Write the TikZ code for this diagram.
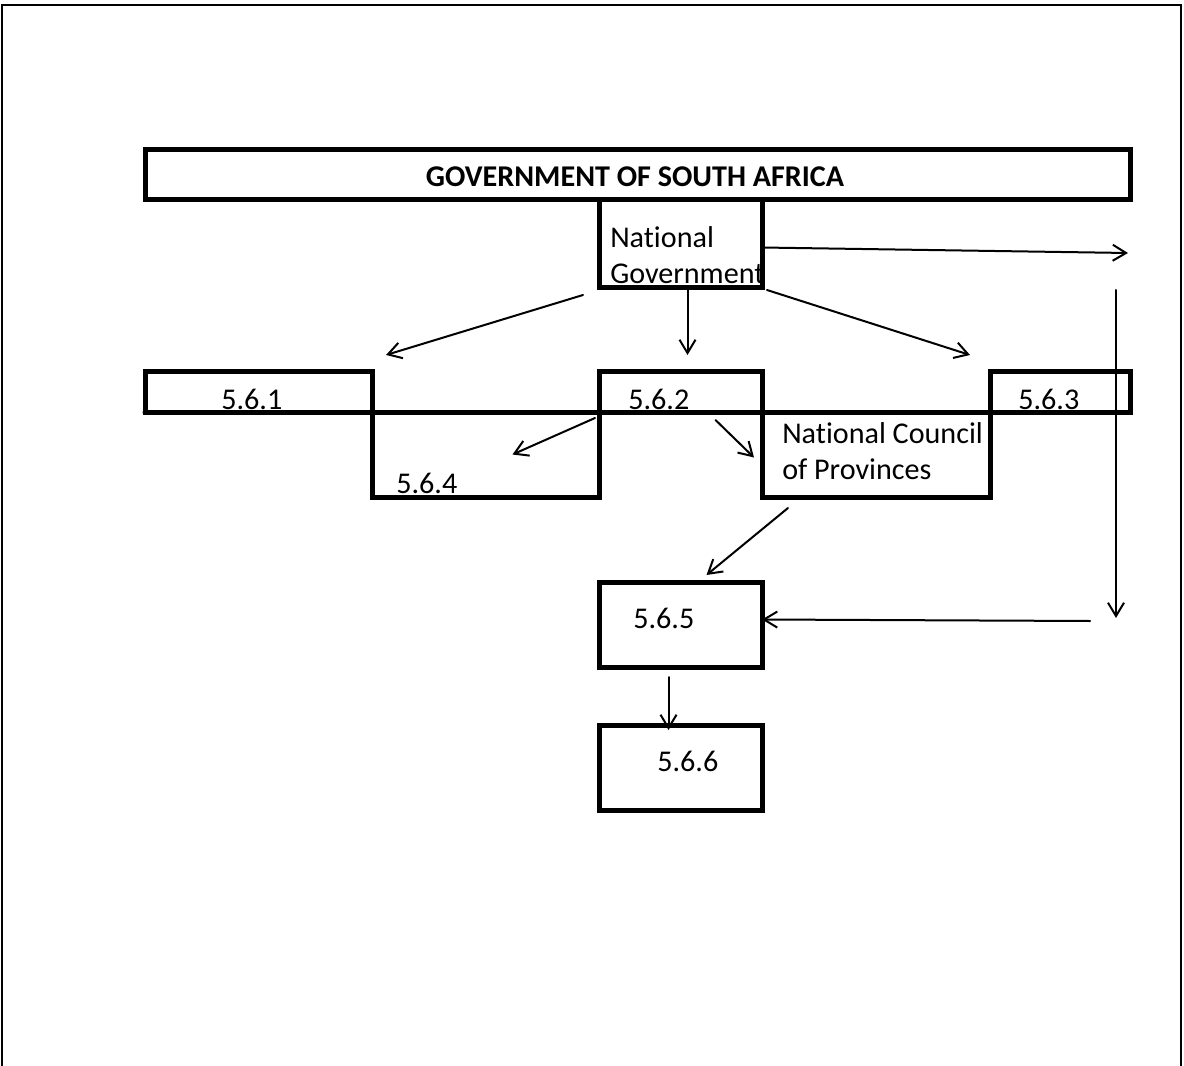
\documentclass[tikz,border=0pt]{standalone}
\usepackage{fontspec}
\setmainfont{Carlito}[Ligatures={NoCommon}]
\usetikzlibrary{arrows.meta}

\begin{document}
\begin{tikzpicture}[line cap=round,x=0.75pt,y=-0.75pt,
		>={Straight Barb[length=10pt,width=12pt]},
		font=\fontsize{22.6}{27}\selectfont,
		box/.style 2 args={draw,rectangle,line width=3.75pt,line join=miter,anchor=north west,
			inner sep=0pt,outer sep=0pt,minimum width=#1*0.75pt,minimum height=#2*0.75pt},
		lbl/.style={anchor=base west,inner sep=0pt,align=left},
		con/.style={->,line width=1.5pt}]
	\useasboundingbox (0,0) rectangle (1184,1066);
	%%%% MARCO
	\draw [line width=1.5pt] (2,1066) -- (2,5) -- (1181,5) -- (1181,1066);
	
	%%%% GOBIERNO
	\node[box={985}{50}] (gov) at (145,150) {};
	\node[anchor=base,inner sep=0pt,font=\fontsize{22.6}{27}\selectfont\bfseries] (govt) at (635,187) {GOVERNMENT OF SOUTH AFRICA};
	\node[box={163}{87}] (ng) at (599,200) {};
	\node[lbl] (ngt) at (610,283) {National\\Government};
	
	%%%% FILA 5.6.x
	\node[box={227}{41}] (b561) at (145,371) {};
	\node[box={163}{41}] (b562) at (599,371) {};
	\node[box={140}{41}] (b563) at (990,371) {};
	\draw [line width=3.75pt] (b561.south west) -- (b563.south east);
	\node[lbl] (t561) at (221,409) {5.6.1};
	\node[lbl] (t562) at (628,409) {5.6.2};
	\node[lbl] (t563) at (1018,409) {5.6.3};
	
	\node[box={227}{85}] (b564) at (372,412) {};
	\node[lbl] (t564) at (396,493) {5.6.4};
	\node[box={228}{85}] (ncop) at (762,412) {};
	\node[lbl] (ncopt) at (782,479) {National Council\\of Provinces};
	
	\node[box={163}{85}] (b565) at (599,582) {};
	\node[lbl] (t565) at (633,628) {5.6.5};
	\node[box={163}{85}] (b566) at (599,725) {};
	\node[lbl] (t566) at (657,771) {5.6.6};
	
	%%%% FLECHAS
	\coordinate (rt) at (1128,253);
	\coordinate (rtop) at (1116,290);
	\coordinate (rbot) at (1116,618);
	\coordinate (rin) at (1090,621);
	
	\draw [con] ([shift={(-16,8)}]ng.south west) -- ([shift={(14,-16)}]b561.north east);
	\draw [con] ([shift={(7,3)}]ng.south) -- ([shift={(7,-16)}]b562.north);
	\draw [con] ([shift={(5,3)}]ng.south east) -- ([shift={(-20,-16)}]b563.north west);
	\draw [con] ([shift={(0,4)}]ng.east) -- (rt);
	\draw [con] (rtop) -- (rbot);
	\draw [con] (rin) -- ([shift={(0,-5)}]b565.east);
	
	\draw [con] ([shift={(-4,6)}]b562.south west) -- ([shift={(27,0)}]b564.center);
	\draw [con] ([shift={(35,8)}]b562.south) -- ([shift={(-8,3)}]ncop.west);
	\draw [con] ([shift={(26,11)}]ncop.south west) -- ([shift={(26,-7)}]b565.north);
	\draw [con] ([shift={(-12,10)}]b565.south) -- ([shift={(-12,5)}]b566.north);
\end{tikzpicture}
\end{document}
